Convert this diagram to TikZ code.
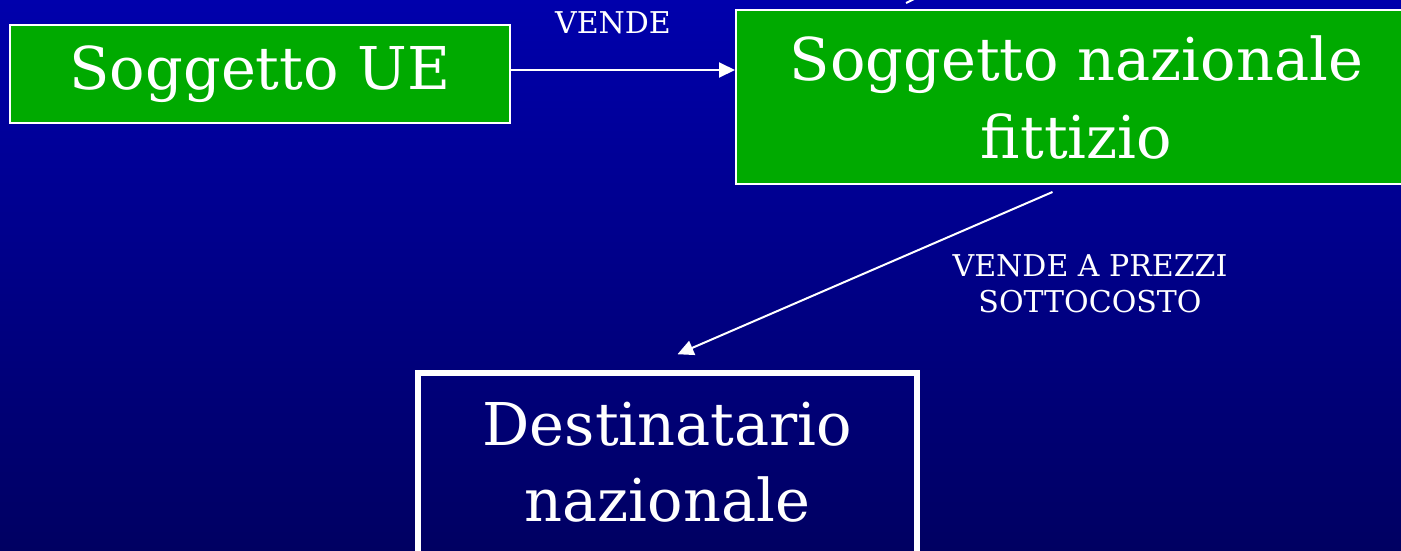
\documentclass[tikz,border=0pt]{standalone}
\usepackage{fontspec}
\usetikzlibrary{arrows.meta}
\newfontfamily\bkfont{DejaVu Serif}
\definecolor{bgtop}{RGB}{0,0,172}
\definecolor{bgbot}{RGB}{0,0,98}
\definecolor{boxgreen}{RGB}{0,170,0}
\begin{document}
\begin{tikzpicture}[x=1pt,y=-1pt,
  boxbase/.style={draw=white, inner sep=0pt, text=white, align=center,
    font=\bkfont\fontsize{59}{78}\selectfont},
  greenbox/.style={boxbase, line width=2pt, fill=boxgreen},
  navybox/.style={boxbase, line width=5.5pt},
  lbl/.style={text=white, align=center, inner sep=0pt, font=\bkfont\fontsize{30}{36}\selectfont},
  arr/.style={draw=white, line width=2pt, -{Triangle[length=16pt,width=15pt]}}]
\useasboundingbox (0,0) rectangle (1401,550);
\shade[top color=bgtop, bottom color=bgbot] (0,0) rectangle (1401,550);
\node[greenbox, minimum width=500.5pt, minimum height=98pt] (ue) at (260,74) {Soggetto UE};
\node[greenbox, minimum width=681pt, minimum height=174pt] (naz) at (1076.5,97) {Soggetto nazionale\\fittizio};
\node[navybox, minimum width=499pt, minimum height=187pt, text depth=10pt,
  font=\bkfont\fontsize{59}{76}\selectfont] (dest) at (667.5,466.5) {Destinatario\\nazionale};
\draw[arr] ([yshift=4pt]ue.east) -- ([yshift=4pt]ue.east -| naz.west);
\draw[arr] ([shift={(-24,7)}]naz.south) -- ([shift={(10,-16)}]dest.north);
\node[lbl, anchor=base] (l1) at (613,33) {VENDE};
\node[lbl] (l2) at (1090,284) {VENDE A PREZZI\\SOTTOCOSTO};
\coordinate (f1) at (906,3);
\coordinate (f2) at (916,-2);
\draw[white, line width=2pt] (f1) -- (f2);
\end{tikzpicture}
\end{document}
